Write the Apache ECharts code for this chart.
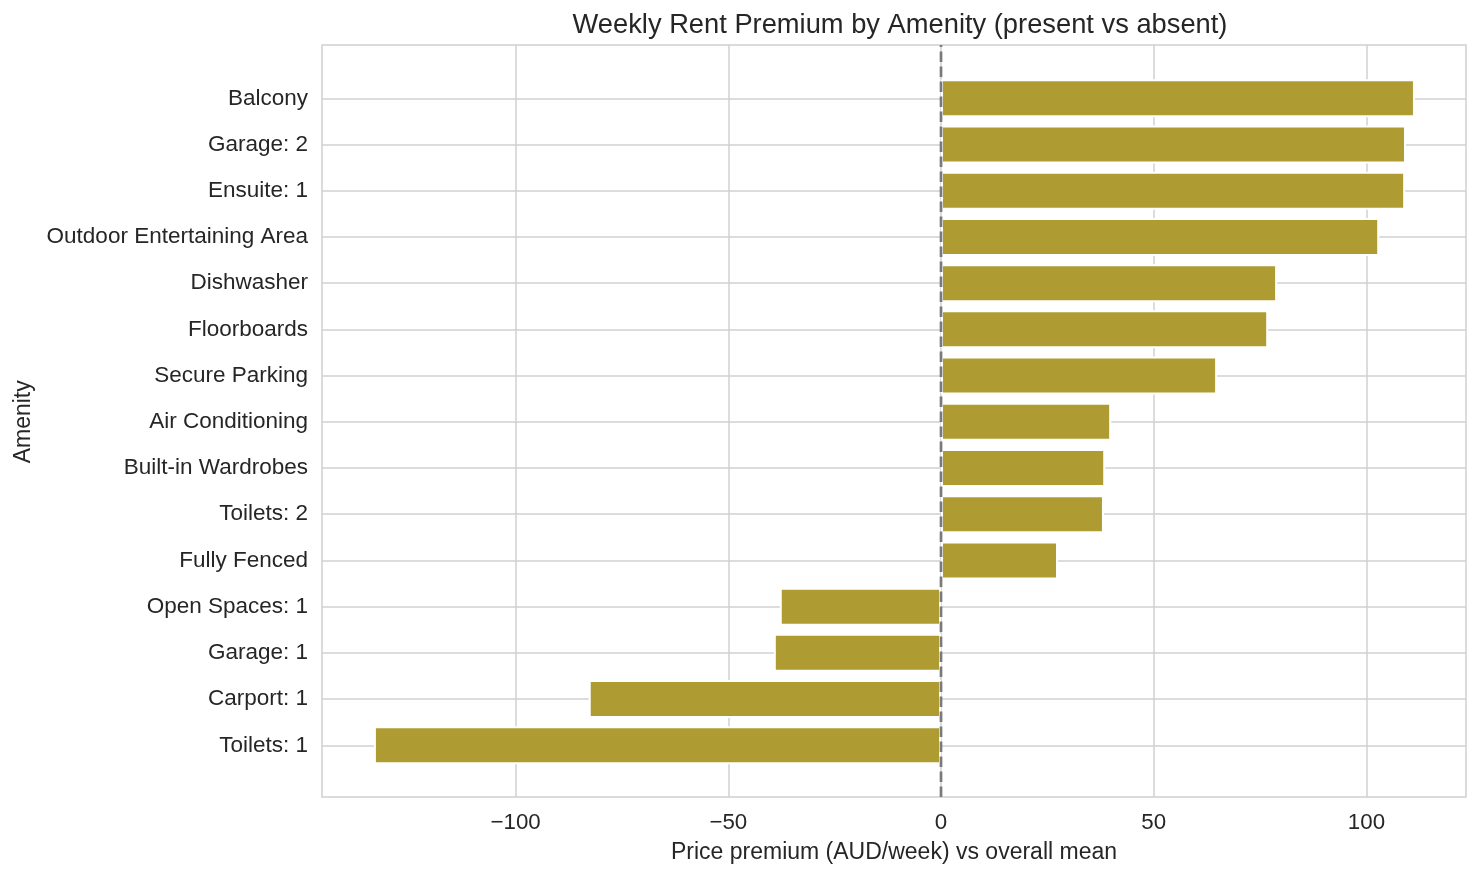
<!DOCTYPE html>
<html>
<head>
<meta charset="utf-8">
<script src="https://cdn.jsdelivr.net/npm/echarts@6/dist/echarts.min.js"></script>
<style>html,body{margin:0;padding:0;background:#fff}#c{width:1480px;height:876px}</style>
</head>
<body>
<div id="c"></div>
<script>
const categories = ["Balcony","Garage: 2","Ensuite: 1","Outdoor Entertaining Area","Dishwasher","Floorboards","Secure Parking","Air Conditioning","Built-in Wardrobes","Toilets: 2","Fully Fenced","Open Spaces: 1","Garage: 1","Carport: 1","Toilets: 1"];
const premium = [111.4,109.3,109.1,103.0,79.0,76.9,64.9,40.0,38.6,38.3,27.5,-37.9,-39.3,-82.8,-133.3];
const xTicks = [-100,-50,0,50,100];
const xMin = -145.5, xMax = 123.4;
const refLine = [[0,0],[0,1]];

const FONT = '"Liberation Sans", Arial, sans-serif';
const TXT = '#262626';
const GRID = '#d0d0d0';
const chart = echarts.init(document.getElementById('c'), null, {renderer:'canvas'});
chart.setOption({
  animation:false,
  backgroundColor:'#fff',
  textStyle:{fontFamily:FONT},
  title:{text:'Weekly Rent Premium by Amenity (present vs absent)', left:895, top:7, textAlign:'center',
    textStyle:{fontFamily:FONT, fontSize:27.3, fontWeight:'normal', color:TXT}},
  grid:[
    {left:322, right:14, top:45, bottom:79, show:true, borderColor:GRID, borderWidth:1.5, backgroundColor:'transparent'},
    {left:322, right:14, top:98.3, bottom:130.7}
  ],
  xAxis:[
    {gridIndex:0, type:'value', min:xMin, max:xMax,
     axisLine:{show:false}, axisTick:{show:false, customValues:xTicks},
     axisLabel:{customValues:xTicks, fontSize:22.3, color:TXT, fontFamily:FONT, margin:15,
       formatter:v=>String(v).replace('-','\u2212')},
     splitLine:{show:true, lineStyle:{color:GRID, width:1.5}},
     name:'Price premium (AUD/week) vs overall mean', nameLocation:'middle', nameGap:44,
     nameTextStyle:{fontSize:23, color:TXT, fontFamily:FONT}},
    {gridIndex:1, type:'value', min:xMin, max:xMax, show:false, splitLine:{show:false}}
  ],
  yAxis:[
    {gridIndex:0, type:'value', min:0, max:1, show:false, splitLine:{show:false}},
    {gridIndex:1, type:'category', data:categories, inverse:true, boundaryGap:false,
     axisLine:{show:false}, axisTick:{show:false, interval:0},
     axisLabel:{interval:0, fontSize:22.5, color:TXT, fontFamily:FONT, margin:14, padding:[4,0,0,0]},
     splitLine:{show:true, interval:0, lineStyle:{color:GRID, width:1.5}},
     name:'Amenity', nameLocation:'middle', nameGap:287, nameRotate:90,
     nameTextStyle:{fontSize:23, color:TXT, fontFamily:FONT}}
  ],
  series:[
    {type:'bar', xAxisIndex:1, yAxisIndex:1, data:premium, barWidth:38,
     itemStyle:{color:'#ae9c33', borderColor:'#ffffff', borderWidth:2}, z:2},
    {type:'line', xAxisIndex:0, yAxisIndex:0, data:refLine, symbol:'none', z:5,
     lineStyle:{color:'#7a7a7a', width:2.7, type:[10.5,4.5]}}
  ]
});
</script>
</body>
</html>
